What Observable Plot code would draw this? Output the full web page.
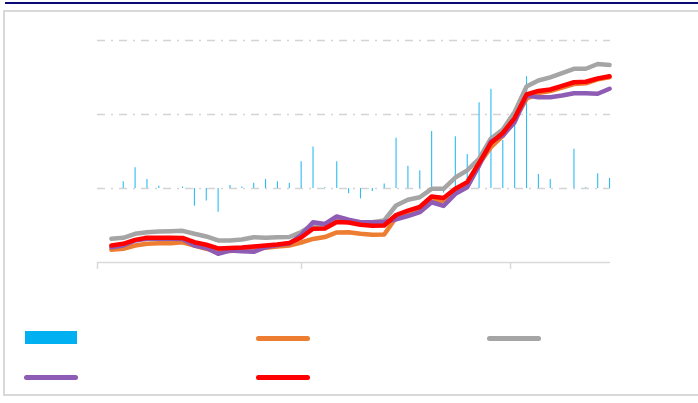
<!DOCTYPE html>
<html>
<head>
<meta charset="utf-8">
<script src="https://cdn.jsdelivr.net/npm/d3@7"></script>
<script src="https://cdn.jsdelivr.net/npm/@observablehq/plot@0.6"></script>
<style>
html, body { margin: 0; padding: 0; background: #ffffff; }
#wrap { position: relative; width: 698px; height: 403px; overflow: hidden; font-family: "Liberation Sans", Arial, sans-serif; }
#topline { position: absolute; left: 5px; top: 2px; width: 693px; height: 2px; background: #0b0b78; }
#box { position: absolute; left: 3px; top: 10px; width: 720px; height: 386px; border: 2px solid #d9d9d9; box-sizing: border-box; }
#chart { position: absolute; left: 0; top: 0; }
.sw { position: absolute; }
.ln { height: 4.5px; border-radius: 2.5px; }
</style>
</head>
<body>
<div id="wrap">
  <div id="topline"></div>
  <div id="box"></div>
  <div id="chart"></div>
  <div class="sw" style="left:25px;top:331px;width:52px;height:13px;background:#00b0f0;"></div>
  <div class="sw ln" style="left:256px;top:336px;width:54px;background:#ed7d31;"></div>
  <div class="sw ln" style="left:487px;top:336px;width:54px;background:#a5a5a5;"></div>
  <div class="sw ln" style="left:24px;top:375px;width:54px;background:#8e5bb5;"></div>
  <div class="sw ln" style="left:256px;top:375px;width:54px;background:#ff0000;"></div>
</div>
<script>
// Period index (categories along the x axis)
const periods = Array.from({length: 43}, (_, i) => i);

// Bars: change, % (left axis: -10 .. 20)
const barValues = [
  0, 0.9, 2.8, 1.2, 0.3, 0, 0.2, -2.4, -1.7, -3.2,
  0.4, 0.2, 0.7, 1.2, 0.9, 0.7, 3.6, 5.6, 0.1, 3.6,
  -0.7, -1.4, -0.4, 0.6, 6.8, 3.0, 2.4, 7.7, -0.6, 7.0,
  4.6, 11.6, 13.4, 6.5, 9.8, 15.1, 1.9, 1.2, 0, 5.3,
  0.1, 2.0, 1.35
];

// Lines: index levels (right axis: 50 .. 200)
const orangeLine = [
  58.6, 59.3, 61.5, 62.6, 63.0, 63.0, 63.7, 61.5, 59.3, 57.8,
  57.8, 58.6, 59.3, 59.9, 60.8, 61.5, 63.5, 65.9, 67.2, 70.3,
  70.5, 69.4, 68.7, 68.9, 80.4, 82.4, 84.8, 92.2, 91.6, 97.5,
  103.2, 116.6, 127.9, 135.5, 146.6, 160.6, 164.5, 165.9, 168.2, 170.6,
  171.1, 173.8, 175.1
];
const greyLine = [
  66.0, 66.7, 69.4, 70.5, 70.9, 71.1, 71.4, 69.4, 67.6, 64.9,
  64.9, 65.5, 67.1, 66.7, 67.1, 67.2, 70.6, 75.5, 75.0, 78.4,
  77.9, 77.2, 77.2, 78.4, 88.5, 92.4, 94.1, 99.8, 99.8, 107.4,
  112.2, 120.1, 133.8, 139.9, 151.7, 168.9, 173.0, 175.1, 178.0, 180.9,
  180.9, 184.1, 183.4
];
const purpleLine = [
  60.3, 61.5, 64.9, 66.0, 66.0, 66.0, 65.9, 61.5, 59.8, 55.9,
  58.1, 57.6, 57.2, 60.3, 61.8, 62.8, 68.6, 77.2, 76.0, 81.1,
  78.9, 77.2, 77.2, 77.4, 79.1, 81.4, 84.0, 90.7, 88.2, 96.4,
  100.9, 115.5, 131.8, 135.8, 144.8, 162.8, 161.7, 161.7, 162.8, 164.4,
  164.4, 164.0, 167.4
];
const redLine = [
  61.5, 62.6, 65.3, 66.7, 66.7, 66.7, 66.6, 63.7, 62.0, 59.5,
  59.8, 60.1, 60.8, 61.5, 62.2, 63.2, 66.9, 72.8, 73.0, 77.4,
  77.0, 75.5, 74.8, 75.0, 82.1, 85.1, 87.5, 94.6, 93.6, 99.8,
  104.3, 117.2, 130.7, 137.5, 147.6, 163.5, 165.9, 166.9, 169.4, 171.8,
  172.1, 174.3, 175.8
];

// Gridline values (left axis) and x-axis tick marks (period index)
const gridValues = [0, 10, 20];
const axisBase = -10;
const xTicks = [-1.17, 16.03, 33.65];

// secondary (right) axis 50..200 mapped onto primary axis -10..20
const toLeft = v => v / 5 - 20;

const lineStyle = {strokeWidth: 4.5, strokeLinejoin: "round", strokeLinecap: "round"};

const chart = Plot.plot({
  width: 698,
  height: 403,
  marginTop: 40,
  marginBottom: 141,
  marginLeft: 97,
  marginRight: 88,
  style: {background: "transparent", overflow: "visible"},
  x: {type: "linear", domain: [-1.17, 42.08], axis: null},
  y: {domain: [-10, 20], axis: null},
  marks: [
    Plot.ruleY(gridValues, {stroke: "#d4d4d4", strokeWidth: 1.5, strokeDasharray: "8,6,2,6"}),
    Plot.ruleX(periods, {x: i => i, y1: 0, y2: i => barValues[i], stroke: "#2cbcf3", strokeWidth: 1.1}),
    Plot.ruleY([axisBase], {stroke: "#d9d9d9", strokeWidth: 1.5}),
    Plot.axisX(xTicks, {tickSize: 7, tickFormat: () => "", stroke: "#d9d9d9", strokeWidth: 1.5, label: null}),
    Plot.line(periods, {x: i => i, y: i => toLeft(orangeLine[i]), stroke: "#ed7d31", ...lineStyle}),
    Plot.line(periods, {x: i => i, y: i => toLeft(greyLine[i]), stroke: "#a5a5a5", ...lineStyle}),
    Plot.line(periods, {x: i => i, y: i => toLeft(purpleLine[i]), stroke: "#8e5bb5", ...lineStyle}),
    Plot.line(periods, {x: i => i, y: i => toLeft(redLine[i]), stroke: "#ff0000", ...lineStyle})
  ]
});
document.getElementById("chart").appendChild(chart);
</script>
</body>
</html>
